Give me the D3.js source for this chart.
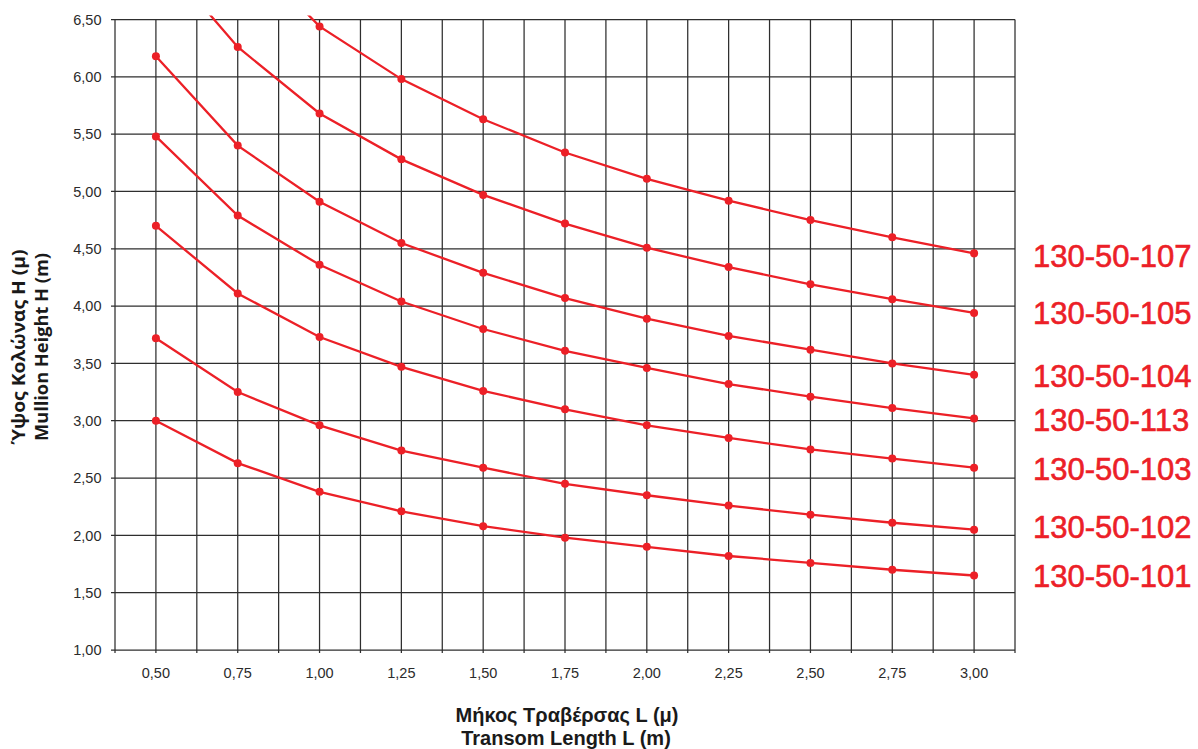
<!DOCTYPE html>
<html><head><meta charset="utf-8">
<script src="https://cdn.jsdelivr.net/npm/d3@7"></script>
<style>body{margin:0;background:#fff;}svg{display:block;}</style>
</head><body>
<svg id="c" width="1198" height="749"></svg>
<script>
const lengths = [0.5, 0.75, 1.0, 1.25, 1.5, 1.75, 2.0, 2.25, 2.5, 2.75, 3.0];
const s101 = [3.00, 2.63, 2.38, 2.21, 2.08, 1.98, 1.90, 1.82, 1.76, 1.70, 1.65];
const s102 = [3.72, 3.25, 2.96, 2.74, 2.59, 2.45, 2.35, 2.26, 2.18, 2.11, 2.05];
const s103 = [4.70, 4.11, 3.73, 3.47, 3.26, 3.10, 2.96, 2.85, 2.75, 2.67, 2.59];
const s113 = [5.48, 4.79, 4.36, 4.04, 3.80, 3.61, 3.46, 3.32, 3.21, 3.11, 3.02];
const s104 = [6.18, 5.40, 4.91, 4.55, 4.29, 4.07, 3.89, 3.74, 3.62, 3.50, 3.40];
const s105 = [7.09, 6.26, 5.68, 5.28, 4.97, 4.72, 4.51, 4.34, 4.19, 4.06, 3.94];
const s107 = [null, 7.17, 6.44, 5.98, 5.63, 5.34, 5.11, 4.92, 4.75, 4.60, 4.46];
const seriesNames = ["130-50-107","130-50-105","130-50-104","130-50-113","130-50-103","130-50-102","130-50-101"];
const seriesValues = [s107, s105, s104, s113, s103, s102, s101];
const labelBaseline = [4.34, 3.84, 3.29, 2.91, 2.48, 1.98, 1.55];
const yTicks = [1.0,1.5,2.0,2.5,3.0,3.5,4.0,4.5,5.0,5.5,6.0,6.5];
const xTicks = lengths;

const svg = d3.select("#c");
const L = 115, R = 1015, T = 19.5, B = 650;
const x = d3.scaleLinear().domain([0.375, 3.125]).range([L, R]);
const y = d3.scaleLinear().domain([1, 6.5]).range([B, T]);
const fmt = v => d3.format(".2f")(v).replace(".", ",");
const red = "#ec2027", grid = "#2e2e2e";

// grid
const vgrid = d3.range(0.375, 3.126, 0.125);
svg.append("g").selectAll("line").data(vgrid).join("line")
  .attr("x1", d => x(d)).attr("x2", d => x(d)).attr("y1", T).attr("y2", B + 3)
  .attr("stroke", grid).attr("stroke-width", 1.25);
svg.append("g").selectAll("line").data(yTicks).join("line")
  .attr("x1", L - 4).attr("x2", R).attr("y1", d => y(d)).attr("y2", d => y(d))
  .attr("stroke", grid).attr("stroke-width", 1.25);

// tick labels
const tickFont = "Liberation Sans, Arial, sans-serif";
svg.append("g").selectAll("text").data(yTicks).join("text")
  .attr("x", 101.5).attr("y", d => y(d)).attr("dy", "0.36em")
  .attr("text-anchor", "end").attr("font-family", tickFont)
  .attr("font-size", 14.5).attr("fill", "#2b2b2b").text(fmt);
svg.append("g").selectAll("text").data(xTicks).join("text")
  .attr("x", d => x(d)).attr("y", 677.5)
  .attr("text-anchor", "middle").attr("font-family", tickFont)
  .attr("font-size", 14.5).attr("fill", "#2b2b2b").text(fmt);

// clip
svg.append("clipPath").attr("id", "clip").append("rect")
  .attr("x", L).attr("y", T - 4).attr("width", R - L).attr("height", B - T + 4);

const line = d3.line().defined(d => d[1] != null).x(d => x(d[0])).y(d => y(d[1]));
const g = svg.append("g").attr("clip-path", "url(#clip)");
seriesValues.forEach((vals, i) => {
  const pts = lengths.map((l, j) => [l, vals[j]]);
  g.append("path").datum(pts).attr("d", line).attr("fill", "none")
    .attr("stroke", red).attr("stroke-width", 2.3);
  g.selectAll(null).data(pts.filter(p => p[1] != null && p[1] <= 6.5)).join("circle")
    .attr("cx", p => x(p[0])).attr("cy", p => y(p[1])).attr("r", 4).attr("fill", red);
});

// series labels
svg.append("g").selectAll("text").data(seriesNames).join("text")
  .attr("x", 1033).attr("y", (d, i) => y(labelBaseline[i]))
  .attr("font-family", "Liberation Sans, Arial, sans-serif").attr("font-size", 31)
  .attr("fill", red).attr("stroke", red).attr("stroke-width", 0.6).text(d => d);

// axis titles
const xt = svg.append("text").attr("text-anchor", "middle").attr("font-family", "Liberation Sans, Arial, sans-serif")
  .attr("font-weight", "bold").attr("font-size", 20).attr("fill", "#1a1a1a");
xt.append("tspan").attr("x", 567).attr("y", 722).text("Μήκος Τραβέρσας L (μ)");
xt.append("tspan").attr("x", 566).attr("y", 745).text("Transom Length L (m)");
const yt = svg.append("g").attr("transform", "translate(0,347) rotate(-90)");
yt.append("text").attr("text-anchor", "middle").attr("font-family", "'Open Sans', sans-serif")
  .attr("font-weight", "bold").attr("font-size", 17.5).attr("fill", "#1a1a1a")
  .attr("x", 0).attr("y", 25).attr("textLength", 195).attr("lengthAdjust", "spacingAndGlyphs")
  .text("Ύψος Κολώνας Η (μ)");
yt.append("text").attr("text-anchor", "middle").attr("font-family", "'Open Sans', sans-serif")
  .attr("font-weight", "bold").attr("font-size", 17.5).attr("fill", "#1a1a1a")
  .attr("x", 0).attr("y", 48).attr("textLength", 188).attr("lengthAdjust", "spacingAndGlyphs")
  .text("Mullion Height H (m)");
</script>
</body></html>
